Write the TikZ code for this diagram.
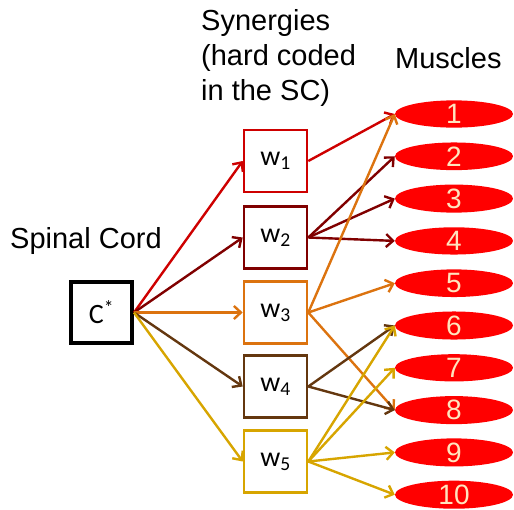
\documentclass[tikz,border=0pt]{standalone}
\usepackage{fontspec}
\setmainfont{Liberation Sans}
\newfontfamily\calib{Carlito}
\usetikzlibrary{arrows.meta,shapes.geometric}
\definecolor{cA}{RGB}{206,0,0}
\definecolor{cB}{RGB}{128,0,0}
\definecolor{cC}{RGB}{220,115,15}
\definecolor{cD}{RGB}{100,55,15}
\definecolor{cE}{RGB}{215,165,0}
\definecolor{muscred}{RGB}{255,0,0}
\definecolor{numcol}{RGB}{255,228,190}
\tikzset{
  x=1pt, y=-1pt,
  synbox/.style={draw=#1, line width=2.6pt, fill=white, minimum width=63pt, minimum height=62pt,
    inner sep=0pt, font=\calib\fontsize{28}{30}\selectfont},
  cordbox/.style={draw=black, line width=4pt, minimum width=61pt, minimum height=61pt,
    inner sep=0pt, font=\calib\fontsize{28}{30}\selectfont},
  muscle/.style={fill=muscred, ellipse, minimum width=118pt, minimum height=27pt, inner sep=0pt,
    text=numcol, font=\fontsize{28}{28}\selectfont},
  link/.style={draw=#1, line width=2.4pt, -{Straight Barb[length=7pt,width=13pt,line width=2.4pt]}},
  heading/.style={font=\fontsize{29}{35}\selectfont, align=left, inner sep=0pt}
}
\begin{document}
\begin{tikzpicture}
\useasboundingbox (0,0) rectangle (514,509);

% headings
\node[heading, anchor=base west] (synt) at (201,100) {Synergies\\(hard coded\\in the SC)};
\node[heading, anchor=base west] (must) at (395,68) {Muscles};
\node[heading, anchor=base west] (spin) at (10,248) {Spinal Cord};

% spinal cord node
\node[cordbox] (c) at (101.5,312.5) {C\textsuperscript{*}};

% synergy nodes
\node[synbox=cA] (w1) at (275.5,161) {w\textsubscript{1}};
\node[synbox=cB] (w2) at (275.5,237.5) {w\textsubscript{2}};
\node[synbox=cC] (w3) at (275.5,312.5) {w\textsubscript{3}};
\node[synbox=cD] (w4) at (275.5,386.5) {w\textsubscript{4}};
\node[synbox=cE] (w5) at (275.5,461.5) {w\textsubscript{5}};

% muscle nodes
\foreach \i in {1,...,10} {
  \node[muscle] (m\i) at (454,{114+42.3*(\i-1)}) {\i};
}

% spinal cord to synergies
\draw[link=cA] (c.east) -- (w1.west);
\draw[link=cB] (c.east) -- (w2.west);
\draw[link=cC] (c.east) -- (w3.west);
\draw[link=cD] (c.east) -- (w4.west);
\draw[link=cE] (c.east) -- (w5.west);

% synergies to muscles
\draw[link=cA] (w1.east) -- (m1.west);
\foreach \m in {2,3,4} \draw[link=cB] (w2.east) -- (m\m.west);
\foreach \m in {1,5,8} \draw[link=cC] (w3.east) -- (m\m.west);
\foreach \m in {6,8} \draw[link=cD] (w4.east) -- (m\m.west);
\foreach \m in {6,7,9,10} \draw[link=cE] (w5.east) -- (m\m.west);
\end{tikzpicture}
\end{document}
